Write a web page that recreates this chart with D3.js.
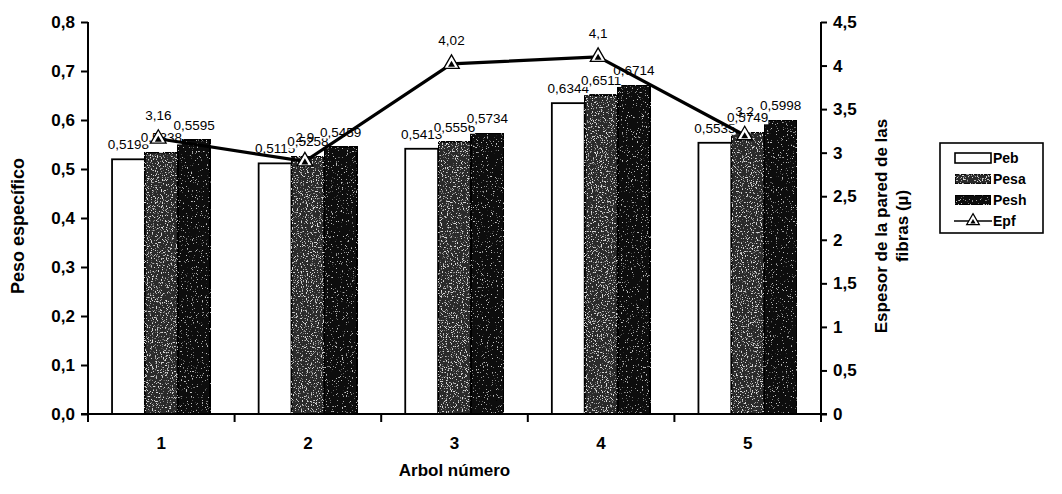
<!DOCTYPE html>
<html>
<head>
<meta charset="utf-8">
<script src="https://cdn.jsdelivr.net/npm/d3@7"></script>
<style>
  html, body { margin: 0; padding: 0; background: #fff; }
  svg { display: block; font-family: Arial, "Liberation Sans", sans-serif; }
</style>
</head>
<body>
<svg id="chart" width="1062" height="494"></svg>
<script>
// Arbol (tree) numbers
const categories = ["1", "2", "3", "4", "5"];
// Peso específico series
const peb  = [0.5198, 0.5115, 0.5413, 0.6344, 0.5535];
const pesa = [0.5338, 0.5258, 0.5556, 0.6511, 0.5749];
const pesh = [0.5595, 0.5459, 0.5734, 0.6714, 0.5998];
// Espesor de la pared de las fibras
const epf  = [3.16, 2.9, 4.02, 4.1, 3.2];

const leftTicks  = [0, 0.1, 0.2, 0.3, 0.4, 0.5, 0.6, 0.7, 0.8];
const rightTicks = [0, 0.5, 1, 1.5, 2, 2.5, 3, 3.5, 4, 4.5];
const seriesNames = ["Peb", "Pesa", "Pesh"];

const svg = d3.select("#chart");
const plot = { left: 88, right: 821, top: 22, bottom: 414 };

const fmt = v => String(v).replace(".", ",");
const fmtLeft = v => d3.format(".1f")(v).replace(".", ",");

// speckled textures for the shaded bars
const defs = svg.append("defs");
function grain(id, seed, slope, offset, tone) {
  const f = defs.append("filter").attr("id", id)
    .attr("x", 0).attr("y", 0).attr("width", 1).attr("height", 1)
    .attr("filterUnits", "objectBoundingBox");
  f.append("feTurbulence").attr("type", "fractalNoise")
    .attr("baseFrequency", 0.8).attr("numOctaves", 2).attr("seed", seed).attr("result", "n");
  f.append("feColorMatrix").attr("in", "n").attr("type", "matrix")
    .attr("values", `0 0 0 0 ${tone}  0 0 0 0 ${tone}  0 0 0 0 ${tone}  ${slope} 0 0 0 ${offset}`)
    .attr("result", "spk");
  f.append("feComposite").attr("in", "spk").attr("in2", "SourceGraphic").attr("operator", "in").attr("result", "spkIn");
  const m = f.append("feMerge");
  m.append("feMergeNode").attr("in", "SourceGraphic");
  m.append("feMergeNode").attr("in", "spkIn");
}
grain("grainPesa", 4, 10, -5.9, 0.7);
grain("grainPesh", 9, 10, -6.6, 0.55);

const fills = { Peb: "#ffffff", Pesa: "#2a2a2a", Pesh: "#0a0a0a" };
const filters = { Peb: null, Pesa: "url(#grainPesa)", Pesh: "url(#grainPesh)" };

const x0 = d3.scaleBand().domain(categories).range([plot.left, plot.right]);
const groupFrac = 0.672;
const x1 = d3.scaleBand().domain(seriesNames)
  .range([0, x0.bandwidth() * groupFrac]);
const groupOffset = (x0.bandwidth() - x0.bandwidth() * groupFrac) / 2;

const yL = d3.scaleLinear().domain([0, 0.8]).range([plot.bottom, plot.top]);
const yR = d3.scaleLinear().domain([0, 4.5]).range([plot.bottom, plot.top]);

const rows = categories.map((c, i) => ({ cat: c, Peb: peb[i], Pesa: pesa[i], Pesh: pesh[i], Epf: epf[i] }));

// bars
seriesNames.forEach(s => {
  svg.append("g").selectAll("rect").data(rows).join("rect")
    .attr("x", d => x0(d.cat) + groupOffset + x1(s))
    .attr("y", d => yL(d[s]))
    .attr("width", x1.bandwidth())
    .attr("height", d => plot.bottom - yL(d[s]))
    .attr("fill", fills[s])
    .attr("stroke", "#000")
    .attr("stroke-width", 1.8)
    .attr("filter", filters[s]);
});

// axes
const axisL = d3.axisLeft(yL).tickValues(leftTicks).tickSize(7).tickFormat(fmtLeft);
const gL = svg.append("g").attr("transform", `translate(${plot.left},0)`).call(axisL);
const axisR = d3.axisRight(yR).tickValues(rightTicks).tickSize(6).tickFormat(fmt);
const gR = svg.append("g").attr("transform", `translate(${plot.right},0)`).call(axisR);
const xTickPos = categories.map(c => x0(c)).concat([plot.right]);
const gB = svg.append("g").attr("transform", `translate(0,${plot.bottom})`);
gB.append("line").attr("x1", plot.left - 7).attr("x2", plot.right + 6)
  .attr("stroke", "#000").attr("stroke-width", 2);
gB.selectAll("line.tk").data(xTickPos).join("line").attr("class", "tk")
  .attr("x1", d => d).attr("x2", d => d).attr("y1", 0).attr("y2", 8)
  .attr("stroke", "#000").attr("stroke-width", 2);
gB.selectAll("text").data(categories).join("text")
  .attr("x", d => x0(d) + x0.bandwidth() / 2)
  .attr("y", 35)
  .attr("text-anchor", "middle")
  .attr("font-size", 17).attr("font-weight", "bold")
  .text(d => d);

[gL, gR].forEach(g => {
  g.select(".domain").remove();
  g.selectAll(".tick line").attr("stroke", "#000").attr("stroke-width", 2);
  g.selectAll(".tick text").attr("font-size", 17).attr("font-weight", "bold")
    .attr("fill", "#000").attr("font-family", "Arial, 'Liberation Sans', sans-serif");
  g.append("line").attr("y1", plot.top).attr("y2", plot.bottom + 7)
    .attr("stroke", "#000").attr("stroke-width", 2);
});
gL.selectAll(".tick text").attr("x", -13);
gR.selectAll(".tick text").attr("x", 12);

// bar value labels (opaque, later ones cover earlier ones)
const lblLayer = svg.append("g").attr("font-size", 13.5);
seriesNames.forEach(s => {
  rows.forEach(d => {
    const cx = x0(d.cat) + groupOffset + x1(s) + x1.bandwidth() / 2;
    const g = lblLayer.append("g");
    const t = g.append("text").attr("x", cx).attr("y", yL(d[s]) - 10)
      .attr("text-anchor", "middle").text(fmt(d[s]));
    const bb = t.node().getBBox();
    g.insert("rect", "text").attr("x", bb.x).attr("y", bb.y + 2)
      .attr("width", bb.width).attr("height", bb.height - 3).attr("fill", "#fff");
  });
});

// Epf line and markers
const cxMid = d => x0(d.cat) + x0.bandwidth() / 2 - 3;
const line = d3.line().x(cxMid).y(d => yR(d.Epf));
svg.append("path").datum(rows).attr("d", line)
  .attr("fill", "none").attr("stroke", "#000").attr("stroke-width", 3.2);

function marker(g, cx, cy, size) {
  const big = d3.symbol().type(d3.symbolTriangle).size(size);
  const small = d3.symbol().type(d3.symbolTriangle).size(size * 0.2);
  g.append("path").attr("d", big()).attr("transform", `translate(${cx},${cy})`)
    .attr("fill", "#fff").attr("stroke", "#000").attr("stroke-width", 1.3);
  g.append("path").attr("d", small()).attr("transform", `translate(${cx},${cy + 1})`)
    .attr("fill", "#000");
}
const mk = svg.append("g");
rows.forEach(d => marker(mk, cxMid(d), yR(d.Epf), 105));

svg.append("g").selectAll("text").data(rows).join("text")
  .attr("x", cxMid).attr("y", d => yR(d.Epf) - 19)
  .attr("text-anchor", "middle").attr("font-size", 13.5)
  .text(d => fmt(d.Epf));

// axis titles
svg.append("text").attr("transform", `translate(24,${(plot.top + plot.bottom) / 2 + 8}) rotate(-90)`)
  .attr("text-anchor", "middle").attr("font-size", 18).attr("font-weight", "bold")
  .text("Peso específico");
const rt = svg.append("text").attr("transform", `translate(887,${(plot.top + plot.bottom) / 2 + 8}) rotate(-90)`)
  .attr("text-anchor", "middle").attr("font-size", 17).attr("font-weight", "bold");
rt.append("tspan").attr("x", 0).attr("dy", 0).text("Espesor de la pared de las");
rt.append("tspan").attr("x", 0).attr("dy", 21).text("fibras (µ)");
svg.append("text").attr("x", (plot.left + plot.right) / 2).attr("y", 476)
  .attr("text-anchor", "middle").attr("font-size", 17).attr("font-weight", "bold")
  .text("Arbol número");

// legend
const lg = svg.append("g").attr("transform", "translate(940,143)");
lg.append("rect").attr("width", 103).attr("height", 90)
  .attr("fill", "#fff").attr("stroke", "#000").attr("stroke-width", 1.6);
const legendItems = seriesNames.concat(["Epf"]);
legendItems.forEach((s, i) => {
  const yy = 15 + i * 21;
  if (s !== "Epf") {
    lg.append("rect").attr("x", 15).attr("y", yy - 5).attr("width", 36).attr("height", 10)
      .attr("fill", fills[s]).attr("stroke", "#000").attr("stroke-width", 1.6)
      .attr("filter", filters[s]);
  } else {
    lg.append("line").attr("x1", 14).attr("x2", 52).attr("y1", yy).attr("y2", yy)
      .attr("stroke", "#000").attr("stroke-width", 1.6);
    const big = d3.symbol().type(d3.symbolTriangle).size(70);
    const small = d3.symbol().type(d3.symbolTriangle).size(12);
    lg.append("path").attr("d", big()).attr("transform", `translate(33,${yy})`)
      .attr("fill", "#fff").attr("stroke", "#000").attr("stroke-width", 1.2);
    lg.append("path").attr("d", small()).attr("transform", `translate(33,${yy + 1})`).attr("fill", "#000");
  }
  lg.append("text").attr("x", 53).attr("y", yy + 5).attr("font-size", 14).attr("font-weight", "bold")
    .text(s);
});
</script>
</body>
</html>
